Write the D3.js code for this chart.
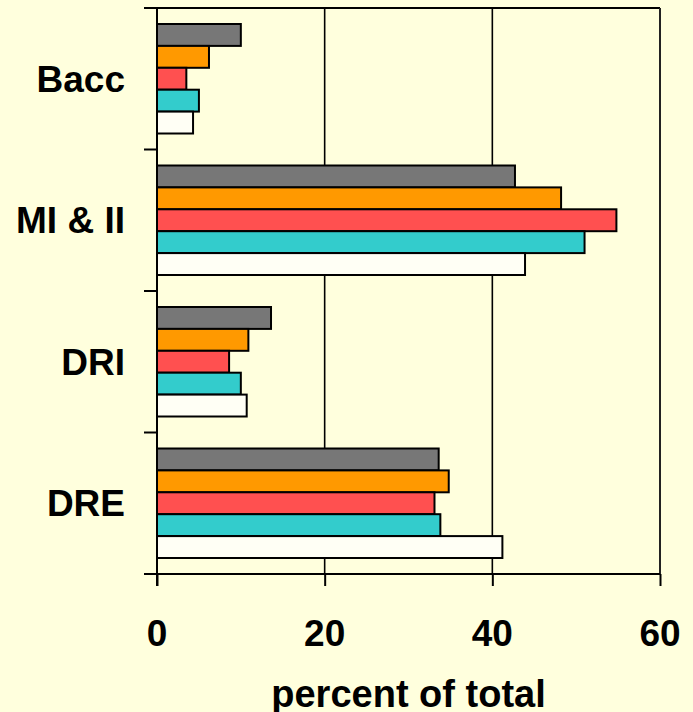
<!DOCTYPE html>
<html>
<head>
<meta charset="utf-8">
<script src="https://cdn.jsdelivr.net/npm/d3@7"></script>
<style>
  html, body { margin: 0; padding: 0; background: #FFFFDD; }
  svg { display: block; }
  text { font-family: "Liberation Sans", Arial, sans-serif; font-weight: bold; fill: #000; }
</style>
</head>
<body>
<svg id="chart"></svg>
<script>
const categories = ['Bacc', 'MI & II', 'DRI', 'DRE'];
const seriesNames = ['s1', 's2', 's3', 's4', 's5'];
const seriesColors = ['#777777', '#FF9900', '#FF5050', '#33CCCC', '#FFFFF5'];

// percent of total, one array per series (top bar to bottom bar in each group)
const s1Values = [10.0, 42.7, 13.6, 33.6];
const s2Values = [6.2, 48.2, 10.9, 34.8];
const s3Values = [3.5, 54.8, 8.6, 33.1];
const s4Values = [5.0, 51.0, 10.0, 33.8];
const s5Values = [4.3, 43.9, 10.7, 41.2];

const xTicks = [0, 20, 40, 60];
const xTitle = 'percent of total';

const allValues = [s1Values, s2Values, s3Values, s4Values, s5Values];

const width = 693;
const height = 712;
const margin = { top: 8, right: 33, bottom: 138, left: 157 };
const plotRight = width - margin.right;
const plotBottom = height - margin.bottom;

const svg = d3.select('#chart')
    .attr('width', width)
    .attr('height', height);

const x = d3.scaleLinear().domain([0, 60]).range([margin.left, plotRight]);
const y = d3.scaleBand().domain(categories).range([margin.top, plotBottom]);
const yInner = d3.scaleBand().domain(seriesNames)
    .range([16, y.bandwidth() - 16]);

// gridlines
svg.append('g')
    .selectAll('line')
    .data(xTicks.slice(1, -1))
    .enter()
    .append('line')
    .attr('x1', d => x(d)).attr('x2', d => x(d))
    .attr('y1', margin.top).attr('y2', plotBottom)
    .attr('stroke', '#000')
    .attr('stroke-width', 1.6);

// bars
const rows = categories.map((c, i) => ({
    category: c,
    bars: seriesNames.map((s, j) => ({ series: s, value: allValues[j][i], color: seriesColors[j] }))
}));

const groups = svg.selectAll('.group')
    .data(rows)
    .enter()
    .append('g')
    .attr('class', 'group')
    .attr('transform', d => `translate(0, ${y(d.category)})`);

groups.selectAll('rect')
    .data(d => d.bars)
    .enter()
    .append('rect')
    .attr('x', x(0))
    .attr('y', d => yInner(d.series))
    .attr('width', d => x(d.value) - x(0))
    .attr('height', yInner.bandwidth())
    .attr('fill', d => d.color)
    .attr('stroke', '#000')
    .attr('stroke-width', 2);

// frame: top and right
svg.append('line')
    .attr('x1', margin.left - 13).attr('x2', plotRight)
    .attr('y1', margin.top).attr('y2', margin.top)
    .attr('stroke', '#000').attr('stroke-width', 2);
svg.append('line')
    .attr('x1', plotRight).attr('x2', plotRight)
    .attr('y1', margin.top).attr('y2', plotBottom)
    .attr('stroke', '#222').attr('stroke-width', 2);

// x axis
const xAxis = svg.append('g')
    .attr('transform', `translate(0, ${plotBottom})`)
    .call(d3.axisBottom(x).tickValues(xTicks).tickSize(12).tickSizeOuter(0).tickFormat(''));
xAxis.select('.domain').attr('stroke', '#000').attr('stroke-width', 2)
    .attr('d', `M${margin.left - 13},0H${plotRight}`);
xAxis.selectAll('.tick line').attr('stroke', '#000').attr('stroke-width', 2);

svg.append('g')
    .selectAll('text')
    .data(xTicks)
    .enter()
    .append('text')
    .attr('x', d => x(d))
    .attr('y', 646)
    .attr('text-anchor', 'middle')
    .style('font-size', '37px')
    .text(d => d);

svg.append('text')
    .attr('x', (margin.left + plotRight) / 2)
    .attr('y', 707)
    .attr('text-anchor', 'middle')
    .style('font-size', '38px')
    .text(xTitle);

// y axis: line plus ticks on the band edges
svg.append('line')
    .attr('x1', margin.left).attr('x2', margin.left)
    .attr('y1', margin.top).attr('y2', plotBottom + 12)
    .attr('stroke', '#000').attr('stroke-width', 2);

const edges = categories.map(c => y(c)).concat([plotBottom]);
svg.append('g')
    .selectAll('line')
    .data(edges)
    .enter()
    .append('line')
    .attr('x1', margin.left - 13).attr('x2', margin.left)
    .attr('y1', d => d).attr('y2', d => d)
    .attr('stroke', '#000').attr('stroke-width', 2);

svg.append('g')
    .selectAll('text')
    .data(categories)
    .enter()
    .append('text')
    .attr('x', 125)
    .attr('y', d => y(d) + y.bandwidth() / 2 + 13)
    .attr('text-anchor', 'end')
    .style('font-size', '37px')
    .text(d => d);
</script>
</body>
</html>
